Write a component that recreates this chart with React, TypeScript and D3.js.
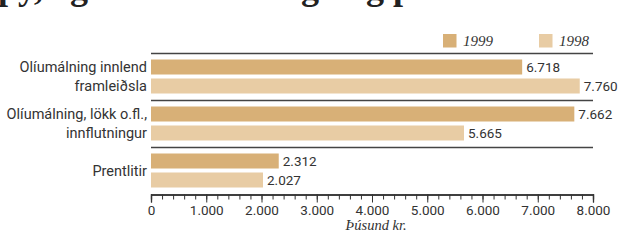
import React, { useEffect, useRef } from 'react';
import * as d3 from 'd3';

const categories = ['Olíumálning innlend framleiðsla', 'Olíumálning, lökk o.fl., innflutningur', 'Prentlitir'];
const categoryLines = [['Olíumálning innlend', 'framleiðsla'], ['Olíumálning, lökk o.fl.,', 'innflutningur'], ['Prentlitir']];
const years = ['1999', '1998'];
const values1999 = [6718, 7662, 2312];
const values1998 = [7760, 5665, 2027];
const majorTicks = [0, 1000, 2000, 3000, 4000, 5000, 6000, 7000, 8000];
const title = 'py, og sala á málningu og prentlitum eftir uppruna';
const axisTitle = 'Þúsund kr.';

const colors: Record<string, string> = { '1999': '#d8b077', '1998': '#e8cca4' };
const sans = 'Roboto, "Liberation Sans", sans-serif';
const serif = '"Liberation Serif", "DejaVu Serif", serif';

const locale = d3.formatLocale({ decimal: ',', thousands: '.', grouping: [3], currency: ['', ''] });
const fmt = locale.format(',');

export default function App() {
  const axisRef = useRef<SVGGElement>(null);

  const x = d3.scaleLinear().domain([0, 8000]).range([151, 593]);
  const y = d3.scaleBand().domain(categories).range([53.5, 194.5]);
  const inner = d3.scaleBand().domain(years).range([6, 40]).paddingInner(0.21);
  const rows = categories.map((c, i) => ({ c, lines: categoryLines[i], v: { '1999': values1999[i], '1998': values1998[i] } as Record<string, number> }));

  useEffect(() => {
    const g = d3.select(axisRef.current);
    g.selectAll('*').remove();
    const minor = d3.axisBottom(x).tickValues(d3.range(0, 8001, 200)).tickSize(5).tickFormat(() => '');
    const major = d3.axisBottom(x).tickValues(majorTicks).tickSize(8).tickPadding(3).tickFormat((d) => fmt(d as number));
    g.append('g').call(minor);
    g.append('g').call(major);
    g.selectAll('path.domain').attr('stroke', '#333').attr('stroke-width', 1.3);
    g.selectAll('.tick line').attr('stroke', '#333').attr('stroke-width', 1);
    g.selectAll('.tick text').attr('fill', '#333').style('font-family', sans).style('font-size', '13.5px');
  }, []);

  return (
    <svg width={618} height={242} style={{ position: 'absolute', left: 0, top: 0, background: '#fff' }}>
      <text x={-2} y={-1.5} style={{ fontFamily: serif, fontWeight: 'bold', fontSize: 36 }} fill="#222">{title}</text>

      {years.map((yr, i) => (
        <g key={yr} transform={`translate(${443 + i * 96},34)`}>
          <rect width={13.5} height={13.5} fill={colors[yr]} />
          <text x={20} y={11.5} style={{ fontFamily: serif, fontStyle: 'italic', fontSize: 15 }} fill="#333">{yr}</text>
        </g>
      ))}

      {rows.map((r) => {
        const y0 = y(r.c) as number;
        return (
          <g key={r.c}>
            <line x1={x(0)} x2={x(8000)} y1={y0} y2={y0} stroke="#444" strokeWidth={1.5} />
            {years.map((yr) => {
              const by = y0 + (inner(yr) as number);
              return (
                <g key={yr}>
                  <rect x={x(0)} y={by} width={x(r.v[yr]) - x(0)} height={inner.bandwidth()} fill={colors[yr]} />
                  <text x={x(r.v[yr]) + 4} y={by + inner.bandwidth() / 2} dy="0.36em" style={{ fontFamily: sans, fontSize: 13.5 }} fill="#333">{fmt(r.v[yr])}</text>
                </g>
              );
            })}
            {r.lines.length === 2
              ? r.lines.map((t, j) => (
                  <text key={t} x={147} y={y0 + (inner(years[j]) as number) + inner.bandwidth() / 2} dy="0.36em" textAnchor="end" style={{ fontFamily: sans, fontSize: 14.5 }} fill="#333">{t}</text>
                ))
              : <text x={147} y={y0 + 23.5} dy="0.36em" textAnchor="end" style={{ fontFamily: sans, fontSize: 14.5 }} fill="#333">{r.lines[0]}</text>}
          </g>
        );
      })}

      <g ref={axisRef} transform={`translate(0,${y.range()[1]})`} />
      <text x={x(4000) + 4} y={230} textAnchor="middle" style={{ fontFamily: serif, fontStyle: 'italic', fontSize: 14.5 }} fill="#333">{axisTitle}</text>
    </svg>
  );
}
